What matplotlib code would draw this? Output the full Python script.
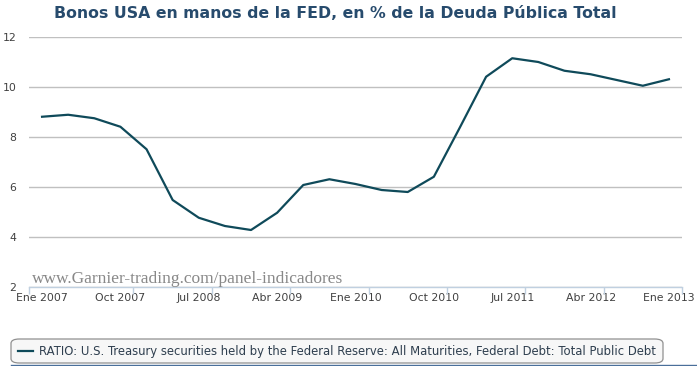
import matplotlib.pyplot as plt
from matplotlib.patches import FancyBboxPatch
from matplotlib.lines import Line2D

# quarterly values, Ene 2007 .. Ene 2013
quarters = [
    'Ene 2007', 'Abr 2007', 'Jul 2007', 'Oct 2007',
    'Ene 2008', 'Abr 2008', 'Jul 2008', 'Oct 2008',
    'Ene 2009', 'Abr 2009', 'Jul 2009', 'Oct 2009',
    'Ene 2010', 'Abr 2010', 'Jul 2010', 'Oct 2010',
    'Ene 2011', 'Abr 2011', 'Jul 2011', 'Oct 2011',
    'Ene 2012', 'Abr 2012', 'Jul 2012', 'Oct 2012',
    'Ene 2013',
]
ratio = [
    8.81, 8.89, 8.75, 8.41,
    7.51, 5.48, 4.77, 4.44,
    4.28, 4.97, 6.08, 6.31,
    6.12, 5.88, 5.80, 6.41,
    8.39, 10.41, 11.15, 11.00,
    10.65, 10.51, 10.28, 10.05,
    10.31,
]
y_ticks = [2, 4, 6, 8, 10, 12]

title = 'Bonos USA en manos de la FED, en % de la Deuda Pública Total'
series_name = ('RATIO: U.S. Treasury securities held by the Federal Reserve: '
               'All Maturities, Federal Debt: Total Public Debt')

W, H = 697, 366
fig = plt.figure(figsize=(W / 100, H / 100), dpi=100)
plt.rcParams['font.family'] = ['DejaVu Sans']

ax = fig.add_axes([29 / W, 1 - 287 / H, (682 - 29) / W, (287 - 37) / H])

x = list(range(len(quarters)))
ax.plot(x, ratio, color='#0f4a5a', linewidth=1.6, solid_joinstyle='round')

ax.set_xlim(-0.5, len(quarters) - 0.5)
ax.set_ylim(2, 12)
ax.set_yticks(y_ticks)
ax.set_yticklabels([str(v) for v in y_ticks])
ax.yaxis.grid(True, color='#c0c0c0', linewidth=1)
ax.set_axisbelow(True)

label_pos = x[::3]
ax.set_xticks(label_pos)
ax.set_xticklabels([quarters[i] for i in label_pos])
ax.set_xticks([-0.5] + [i + 0.5 for i in label_pos[1:]], minor=True)

ax.tick_params(axis='x', which='major', length=0, pad=4,
               labelsize=7.8, labelcolor='#404040')
ax.tick_params(axis='x', which='minor', length=5, width=1, color='#c0d0e0')
ax.tick_params(axis='y', length=0, pad=9, labelsize=7.8, labelcolor='#404040')

for side in ['top', 'right', 'left']:
    ax.spines[side].set_visible(False)
ax.spines['bottom'].set_color('#c0d0e0')
ax.spines['bottom'].set_linewidth(1)

fig.text(335 / W, 1 - 14 / H, title, ha='center', va='center',
         fontsize=11.3, fontweight='bold', color='#274b6d')

fig.text(32 / W, 1 - 283 / H, 'www.Garnier-trading.com/panel-indicadores',
         ha='left', va='baseline', fontsize=12.5, color='#888888',
         family='Liberation Serif')

# legend box
box = FancyBboxPatch((11 / W, 1 - 363 / H), (663 - 11) / W, (363 - 339) / H,
                     boxstyle='round,pad=0,rounding_size=0.012',
                     transform=fig.transFigure, facecolor='#f7f7f7',
                     edgecolor='#909090', linewidth=0.9)
fig.patches.append(box)
fig.lines.append(Line2D([18 / W, 33 / W], [1 - 351 / H, 1 - 351 / H],
                        transform=fig.transFigure, color='#0f4a5a',
                        linewidth=1.6))
fig.text(39 / W, 1 - 351 / H, series_name, ha='left', va='center',
         fontsize=8.4, color='#2f3f4f')
fig.lines.append(Line2D([11 / W, 1.0], [1 - 365 / H, 1 - 365 / H],
                        transform=fig.transFigure, color='#4a6f9a',
                        linewidth=1))

fig.savefig('out.png', dpi=100)
